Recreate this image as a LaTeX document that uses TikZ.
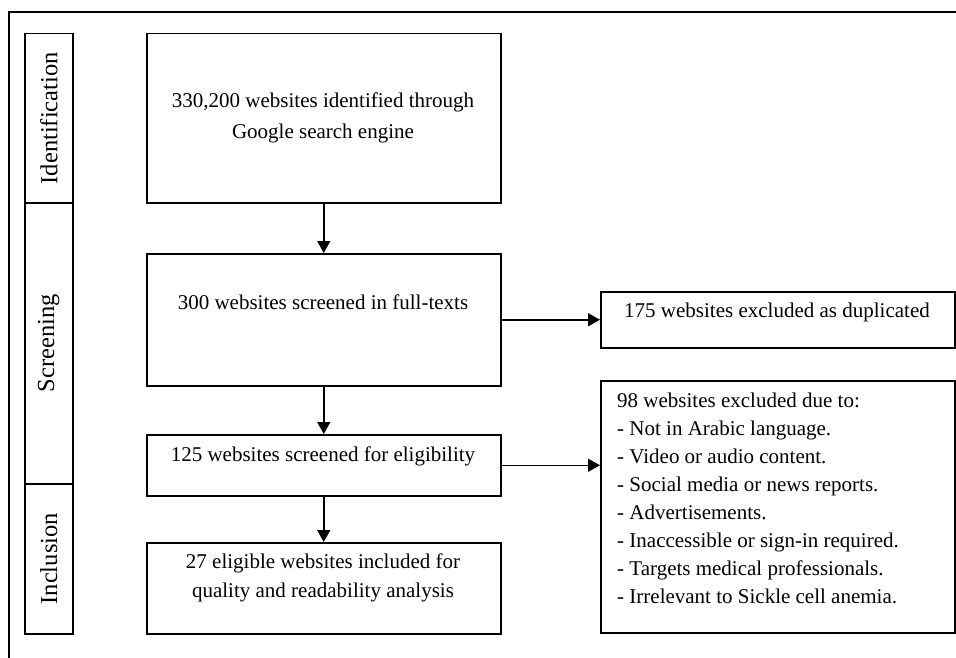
\documentclass[tikz,border=0pt]{standalone}
\usepackage{fontspec}
\setmainfont{Liberation Serif}
\usetikzlibrary{arrows.meta,calc}
\begin{document}
\begin{tikzpicture}[x=1pt,y=-1pt,
  box/.style={draw, line width=1.5pt, inner sep=0pt, anchor=north west},
  txt/.style={font=\fontsize{21}{28}\selectfont, align=center, inner sep=0pt},
  phase/.style={font=\fontsize{24.5}{29}\selectfont, rotate=90, inner sep=0pt},
  arr/.style={line width=1.5pt, -{Triangle[length=12pt,width=13pt]}}]
\useasboundingbox (0,0) rectangle (956,658);
\coordinate (fr) at (956,12);
\coordinate (fc) at (9,12);
\coordinate (fb) at (9,658);
\draw[line width=1.5pt] (fr) -- (fc) -- (fb);
% phase boxes
\node[box, minimum width=48pt, minimum height=169pt] (pid) at (24,33) {};
\node[box, minimum width=48pt, minimum height=281pt] (psc) at (24,202) {};
\node[box, minimum width=48pt, minimum height=150pt] (pin) at (24,483) {};
\node[phase] (lid) at (pid.center) {Identification};
\node[phase] (lsc) at (psc.center) {Screening};
\node[phase] (lin) at (pin.center) {Inclusion};
% main boxes
\node[box, minimum width=354pt, minimum height=169pt] (b1) at (146,33) {};
\node[box, minimum width=354pt, minimum height=132pt] (b2) at (146,253) {};
\node[box, minimum width=354pt, minimum height=61pt] (b3) at (146,434) {};
\node[box, minimum width=354pt, minimum height=91pt] (b4) at (146,542) {};
\node[box, minimum width=354pt, minimum height=56pt] (e1) at (600,291) {};
\node[box, minimum width=354pt, minimum height=252pt] (e2) at (600,380) {};
% texts
\node[txt, font=\fontsize{21}{31}\selectfont] (t1) at (323,118) {330,200 websites identified through\\Google search engine};
\node[txt] (t2) at (323,302) {300 websites screened in full-texts};
\node[txt] (t3) at (323,456) {125 websites screened for eligibility};
\node[txt, font=\fontsize{21}{29.5}\selectfont] (t4) at (323,578) {27 eligible websites included for\\quality and readability analysis};
\node[txt] (t5) at (777,312) {175 websites excluded as duplicated};
\node[txt, align=left, anchor=west] (t6) at (617,498.5) {98 websites excluded due to:\\
- Not in Arabic language.\\
- Video or audio content.\\
- Social media or news reports.\\
- Advertisements.\\
- Inaccessible or sign-in required.\\
- Targets medical professionals.\\
- Irrelevant to Sickle cell anemia.};
% arrows
\draw[arr] (b1.south) -- (b2.north);
\draw[arr] (b2.south) -- (b3.north);
\draw[arr] (b3.south) -- (b4.north);
\draw[arr] (b2.east) -- (e1.west);
\draw[arr] (b3.east) -- (b3.east -| e2.west);
\end{tikzpicture}
\end{document}
